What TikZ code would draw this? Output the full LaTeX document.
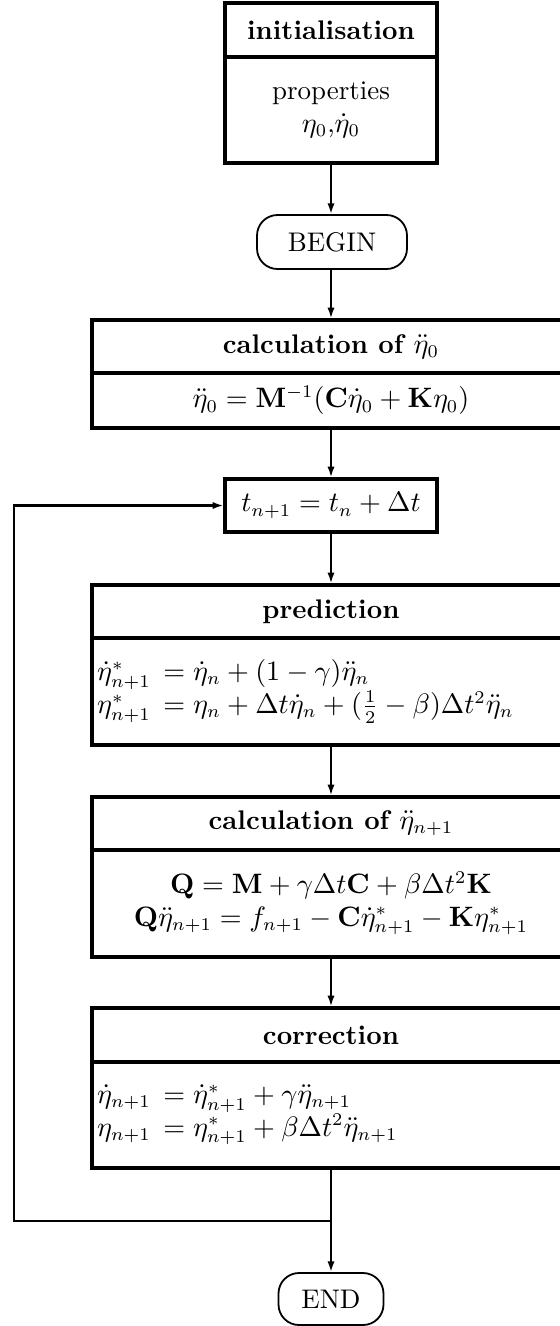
\documentclass[tikz,border=0pt]{standalone}
\usetikzlibrary{arrows.meta}
\begin{document}
\begin{tikzpicture}[x=0.39pt,y=-0.39pt,
  every node/.style={font=\fontsize{10.5}{12.6}\selectfont},
  boxpart/.style={draw,line width=1.2pt,inner sep=0pt,anchor=center},
  hd/.style={boxpart,font=\fontsize{10.5}{12.6}\selectfont\bfseries},
  wide/.style={minimum width={478*0.39pt}},
  narrow/.style={minimum width={212*0.39pt}},
  leftbody/.style={boxpart,wide,align=left,text width={478*0.39pt-4pt},inner xsep=2pt},
  term/.style={draw,line width=0.7pt,rounded corners=8pt,inner sep=0pt},
  flow/.style={line width=0.8pt,-{Latex[length=4.2pt,width=2.8pt]}},
  link/.style={line width=0.8pt}]
\useasboundingbox (0,0) rectangle (560,1326);
\clip (0,0) rectangle (560,1326);

% initialisation
\node[hd,narrow,minimum height={54*0.39pt}] (Ah) at (331,30) {initialisation};
\node[boxpart,narrow,minimum height={106*0.39pt},align=center] (Ab) at (331,110)
  {properties\\ $\eta_0$,$\dot{\eta}_0$};

% BEGIN
\node[term,minimum width={150*0.39pt},minimum height={54*0.39pt}] (B) at (332,242) {BEGIN};

% calculation of eta0
\node[hd,wide,minimum height={53*0.39pt}] (Ch) at (331,346.5) {calculation of $\ddot{\eta}_0$};
\node[boxpart,wide,minimum height={55*0.39pt}] (Cb) at (331,400.5)
  {$\ddot{\eta}_0=\mathbf{M}^{-1}(\mathbf{C}\dot{\eta}_0+\mathbf{K}\eta_0)$};

% time step
\node[boxpart,narrow,minimum height={53*0.39pt}] (T) at (331,505.5) {$t_{n+1}=t_n+\Delta t$};

% prediction
\node[hd,wide,minimum height={53*0.39pt}] (Ph) at (331,611.5) {prediction};
\node[leftbody,minimum height={107*0.39pt}] (Pb) at (331,691.5)
  {$\dot{\eta}^*_{n+1}\,=\dot{\eta}_n+(1-\gamma)\ddot{\eta}_n$\\[0.3pt]
   $\eta^*_{n+1}\,=\eta_n+\Delta t\dot{\eta}_n+(\frac{1}{2}-\beta)\Delta t^2\ddot{\eta}_n$};

% calculation of eta n+1
\node[hd,wide,minimum height={53*0.39pt}] (Qh) at (331,823.5) {calculation of $\ddot{\eta}_{n+1}$};
\node[boxpart,wide,minimum height={107*0.39pt},align=center] (Qb) at (331,903.5)
  {$\mathbf{Q}=\mathbf{M}+\gamma\Delta t\mathbf{C}+\beta\Delta t^2\mathbf{K}$\\
   $\mathbf{Q}\ddot{\eta}_{n+1}=f_{n+1}-\mathbf{C}\dot{\eta}^*_{n+1}-\mathbf{K}\eta^*_{n+1}$};

% correction
\node[hd,wide,minimum height={54*0.39pt}] (Rh) at (331,1035) {correction};
\node[leftbody,minimum height={106*0.39pt}] (Rb) at (331,1115)
  {$\dot{\eta}_{n+1}\,=\dot{\eta}^*_{n+1}+\gamma\ddot{\eta}_{n+1}$\\
   $\eta_{n+1}\,=\eta^*_{n+1}+\beta\Delta t^2\ddot{\eta}_{n+1}$};

% END
\node[term,minimum width={105*0.39pt},minimum height={52*0.39pt}] (E) at (331,1299) {END};

% connectors
\draw[flow] (Ab.south) -- (B.north -| Ab.south);
\draw[flow] (B.south -| Ab.south) -- (Ch.north);
\draw[flow] (Cb.south) -- (T.north);
\draw[flow] (T.south) -- (Ph.north);
\draw[flow] (Pb.south) -- (Qh.north);
\draw[flow] (Qb.south) -- (Rh.north);
\draw[flow] (Rb.south) -- (E.north);
\coordinate (J) at (331,1221);
\coordinate (L) at (14,1221);
\draw[flow] (J) -- (L) |- (T.west);
\end{tikzpicture}
\end{document}
